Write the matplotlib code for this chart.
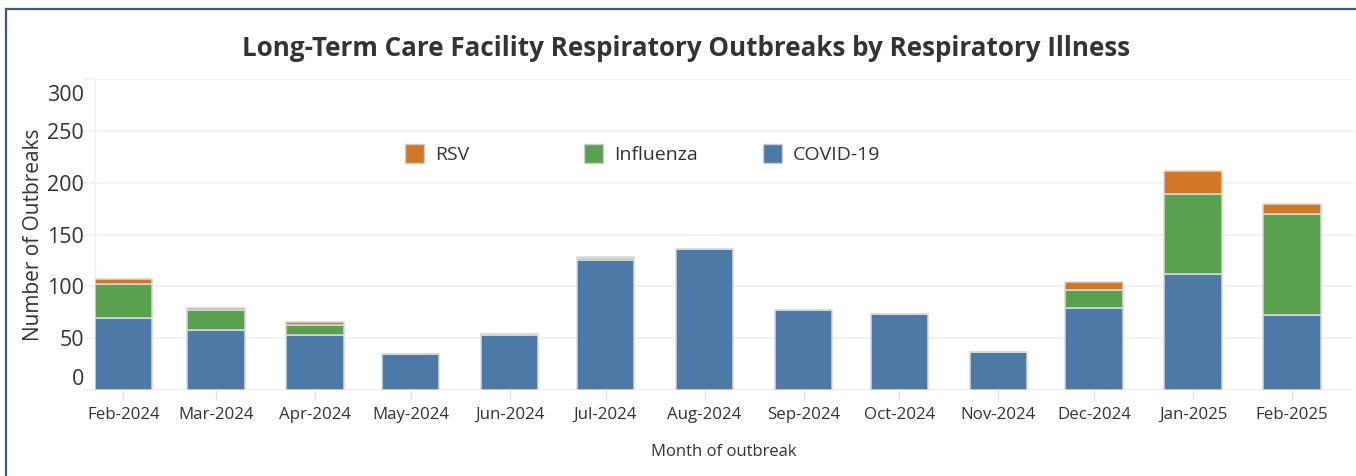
import matplotlib
matplotlib.use("Agg")
import matplotlib.pyplot as plt
import matplotlib.dates as mdates
import matplotlib.transforms as mtransforms
import pandas as pd
from matplotlib.patches import Patch
from matplotlib.lines import Line2D

# ---------------- data ----------------
months = ["2024-02-01", "2024-03-01", "2024-04-01", "2024-05-01", "2024-06-01",
          "2024-07-01", "2024-08-01", "2024-09-01", "2024-10-01", "2024-11-01",
          "2024-12-01", "2025-01-01", "2025-02-01"]
month_labels = ["Feb-2024", "Mar-2024", "Apr-2024", "May-2024", "Jun-2024",
                "Jul-2024", "Aug-2024", "Sep-2024", "Oct-2024", "Nov-2024",
                "Dec-2024", "Jan-2025", "Feb-2025"]
covid = [70, 58, 53, 35, 53, 126, 136, 77, 73, 37, 79, 112, 72]
influenza = [32, 19, 10, 0, 1, 1, 0, 0, 0, 0, 18, 77, 98]
rsv = [5, 2, 3, 0, 0, 1, 0, 0, 0, 0, 7, 22, 10]
series_names = ["COVID-19", "Influenza", "RSV"]
y_ticks = [0, 50, 100, 150, 200, 250, 300]

# ---------------- style ----------------
C_COVID = "#4E79A7"
C_FLU = "#59A14F"
C_RSV = "#D17826"
EDGE = "#D9D9D9"
TXT = "#333333"
FONT = ["Open Sans", "DejaVu Sans"]
plt.rcParams["font.family"] = FONT

W, H = 1356, 476
fig = plt.figure(figsize=(W / 100, H / 100), dpi=100)
ax = fig.add_axes([95 / W, 1 - 390 / H, (1353 - 95) / W, (390 - 79.3) / H])

dates = pd.to_datetime(months)
x = mdates.date2num(dates)
bw = 17.9

b1 = ax.bar(x, covid, width=bw, color=C_COVID, edgecolor=EDGE, linewidth=1.1, zorder=3)
bottom2 = [c for c in covid]
b2 = ax.bar(x, influenza, width=bw, bottom=bottom2, color=C_FLU, edgecolor=EDGE,
            linewidth=1.1, zorder=3)
bottom3 = [c + f for c, f in zip(covid, influenza)]
b3 = ax.bar(x, rsv, width=bw, bottom=bottom3, color=C_RSV, edgecolor=EDGE,
            linewidth=1.1, zorder=3)

x0 = mdates.date2num(pd.Timestamp("2024-02-01"))
ax.set_xlim(x0 - 8.9, mdates.date2num(pd.Timestamp("2025-02-01")) + 19.1)
ax.set_ylim(0, 300)

# grid
ax.set_yticks(y_ticks)
ax.yaxis.grid(True, color="#EFEFEF", linewidth=1.2, zorder=0)
ax.set_axisbelow(True)
for s in ["top", "right", "bottom"]:
    ax.spines[s].set_visible(False)
ax.spines["left"].set_color("#EFEFEF")
ax.spines["left"].set_linewidth(1.0)
ax.axhline(0, color="#D0D0D0", linewidth=1.0, linestyle=(0, (2, 1.5)), zorder=4)

ax.tick_params(axis="y", length=8, color="#EFEFEF", width=1.2, labelsize=15.5,
               labelcolor=TXT, pad=0)
ax.set_yticklabels([str(v) for v in y_ticks])
for lbl in ax.get_yticklabels():
    if lbl.get_text() == "0":
        lbl.set_verticalalignment("bottom")
    elif lbl.get_text() == "300":
        lbl.set_verticalalignment("top")
        lbl.set_transform(lbl.get_transform() +
                          mtransforms.ScaledTranslation(0, -6 / 100, fig.dpi_scale_trans))

ax.set_xticks(x)
ax.set_xticklabels(month_labels)
ax.tick_params(axis="x", length=7, color="#E2E2E2", width=1.0, labelsize=12.2,
               labelcolor=TXT, pad=5)

ax.set_ylabel("Number of Outbreaks", fontsize=15, color=TXT)
ax.yaxis.set_label_coords((44 - 95) / (1353 - 95), 0.5)
ax.set_xlabel("Month of outbreak", fontsize=12, color=TXT, labelpad=15)

fig.text(686 / W, 1 - 48 / H, "Long-Term Care Facility Respiratory Outbreaks by Respiratory Illness",
         ha="center", va="center", fontsize=18.7, fontweight="bold", color=TXT)

# legends (one entry each, placed as in the reference)
entries = [(b3, "RSV", 405), (b2, "Influenza", 584), (b1, "COVID-19", 763)]
for cont, name, px in entries:
    h = Patch(facecolor=cont.patches[0].get_facecolor(), edgecolor="#CCCCCC", linewidth=1)
    leg = fig.legend([h], [name], loc="center left",
                     bbox_to_anchor=(px / W, 1 - 154 / H), frameon=False,
                     fontsize=14, handlelength=1.0, handleheight=1.1,
                     handletextpad=0.55, borderpad=0, borderaxespad=0)
    for t in leg.get_texts():
        t.set_color(TXT)

# outer frame (left and top)
fig.add_artist(Line2D([5.5 / W, 5.5 / W], [0, 1 - 9 / H], transform=fig.transFigure,
                      color="#3E5A7E", linewidth=1.6))
fig.add_artist(Line2D([5.5 / W, 1], [1 - 9 / H, 1 - 9 / H], transform=fig.transFigure,
                      color="#3E5A7E", linewidth=1.6))

fig.savefig("out.png", dpi=100)
